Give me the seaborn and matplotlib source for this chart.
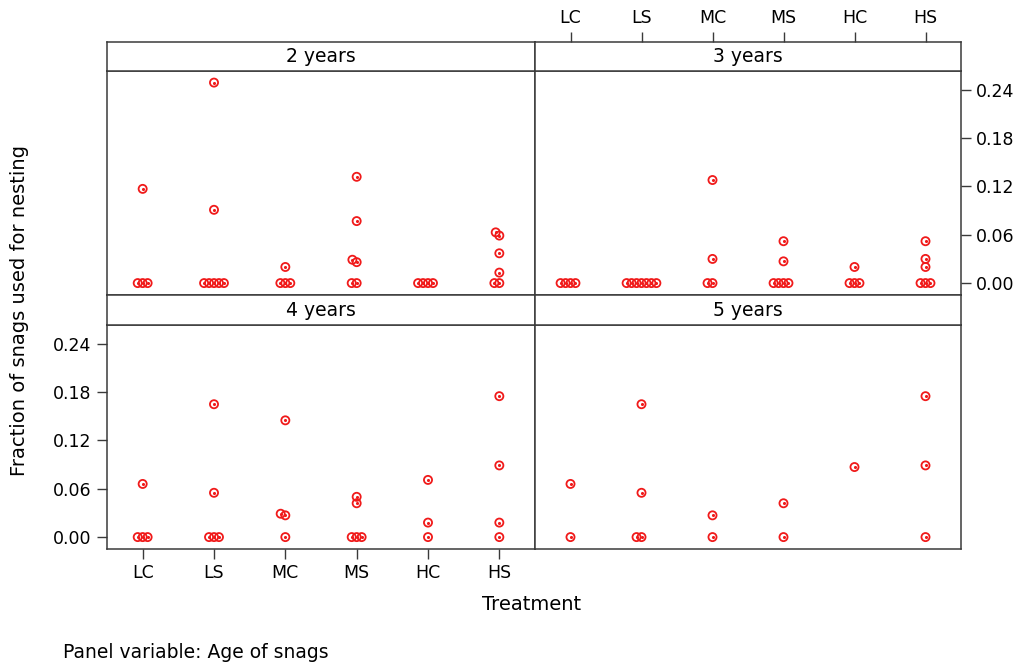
import numpy as np
import pandas as pd
import seaborn as sns
import matplotlib.pyplot as plt

# data (one list per treatment, order LC..HS)
treatments = ["LC", "LS", "MC", "MS", "HC", "HS"]
ages = ["2 years", "3 years", "4 years", "5 years"]

vals_2yr = [
    [0, 0, 0, 0.117],
    [0, 0, 0, 0, 0, 0.091, 0.249],
    [0, 0, 0, 0.020],
    [0, 0, 0.026, 0.029, 0.077, 0.132],
    [0, 0, 0, 0],
    [0, 0, 0.013, 0.037, 0.059, 0.063],
]
vals_3yr = [
    [0, 0, 0, 0],
    [0, 0, 0, 0, 0, 0, 0],
    [0, 0, 0.030, 0.128],
    [0, 0, 0, 0, 0.027, 0.052],
    [0, 0, 0, 0.020],
    [0, 0, 0, 0.020, 0.030, 0.052],
]
vals_4yr = [
    [0, 0, 0, 0.066],
    [0, 0, 0, 0.055, 0.165],
    [0, 0.027, 0.029, 0.145],
    [0, 0, 0, 0.042, 0.050],
    [0, 0.018, 0.071],
    [0, 0.018, 0.089, 0.175],
]
vals_5yr = [
    [0, 0.066],
    [0, 0, 0.055, 0.165],
    [0, 0.027],
    [0, 0.042],
    [0.087],
    [0, 0.089, 0.175],
]
yticks = [0.00, 0.06, 0.12, 0.18, 0.24]

rows = []
for age, vals in zip(ages, [vals_2yr, vals_3yr, vals_4yr, vals_5yr]):
    for trt, v in zip(treatments, vals):
        for x in v:
            rows.append((age, trt, x))
df = pd.DataFrame(rows, columns=["age", "treatment", "fraction"])

sns.set_style("white")
plt.rcParams["font.family"] = ["DejaVu Sans"]
plt.rcParams["text.color"] = "black"
plt.rcParams["xtick.labelcolor"] = "black"
plt.rcParams["ytick.labelcolor"] = "black"

W, H = 1024, 665
fig = plt.figure(figsize=(W / 100, H / 100), dpi=100)


def box(x0, y0, x1, y1):
    # pixel box (top-left origin) -> figure fraction
    return [x0 / W, 1 - y1 / H, (x1 - x0) / W, (y1 - y0) / H]


xs = [(107, 535), (535, 961)]
ys = [((42, 71), (71, 295)), ((295, 325), (325, 549))]
edge = "#3a3a3a"
red = "#f01a1a"

panels = []
for i, age in enumerate(ages):
    r, c = divmod(i, 2)
    (sy0, sy1), (py0, py1) = ys[r]
    x0, x1 = xs[c]
    ax = fig.add_axes(box(x0, py0, x1, py1))
    strip = fig.add_axes(box(x0, sy0, x1, sy1))
    strip.set_xlim(-0.5, 5.5)
    strip.set_yticks([])
    strip.set_xticks([])
    strip.text(0.5, 0.5, age, transform=strip.transAxes, ha="center",
               va="center", fontsize=13.5)

    sub = df[df["age"] == age]
    sns.swarmplot(data=sub, x="treatment", y="fraction", order=treatments,
                  size=3.4, color=red, ax=ax)
    ax.set_xlim(-0.5, 5.5)
    ax.set_ylim(-0.0148, 0.2634)
    ax.set_xlabel("")
    ax.set_ylabel("")
    ax.set_xticks(range(len(treatments)))
    ax.set_yticks(yticks)
    ax.tick_params(length=0, labelbottom=False, labelleft=False)

    for a in (ax, strip):
        for s in a.spines.values():
            s.set_color(edge)
            s.set_linewidth(1.1)

    if r == 1 and c == 0:
        ax.tick_params(axis="x", bottom=True, labelbottom=True, length=7,
                       width=1, color=edge, labelsize=12.5, pad=4)
        ax.tick_params(axis="y", left=True, labelleft=True, length=7,
                       width=1, color=edge, labelsize=12.5, pad=4)
        ax.set_yticklabels([f"{t:.2f}" for t in yticks])
    if r == 0 and c == 1:
        ax.tick_params(axis="y", right=True, labelright=True, length=7,
                       width=1, color=edge, labelsize=12.5, pad=4)
        ax.set_yticklabels([f"{t:.2f}" for t in yticks])
        strip.set_xticks(range(len(treatments)))
        strip.set_xticklabels(treatments)
        strip.tick_params(axis="x", top=True, labeltop=True, bottom=False,
                          labelbottom=False, length=7, width=1, color=edge,
                          labelsize=12.5, pad=4)
    panels.append(ax)

# let seaborn lay out the swarms, then redraw them as ring + dot markers
fig.canvas.draw()
for ax in panels:
    for coll in list(ax.collections):
        offs = np.asarray(coll.get_offsets())
        coll.remove()
        if len(offs) == 0:
            continue
        ax.scatter(offs[:, 0], offs[:, 1], s=34, facecolors="none",
                   edgecolors=red, linewidths=1.3, zorder=3)
        ax.scatter(offs[:, 0], offs[:, 1], s=5, color=red, linewidths=0,
                   zorder=4)

fig.text(20 / W, 1 - 311 / H, "Fraction of snags used for nesting",
         rotation=90, ha="center", va="center", fontsize=14)
fig.text(532 / W, 1 - 604 / H, "Treatment", ha="center", va="center",
         fontsize=14)
fig.text(63 / W, 1 - 652 / H, "Panel variable: Age of snags", ha="left",
         va="center", fontsize=13.5)

fig.savefig("out.png", dpi=100)
